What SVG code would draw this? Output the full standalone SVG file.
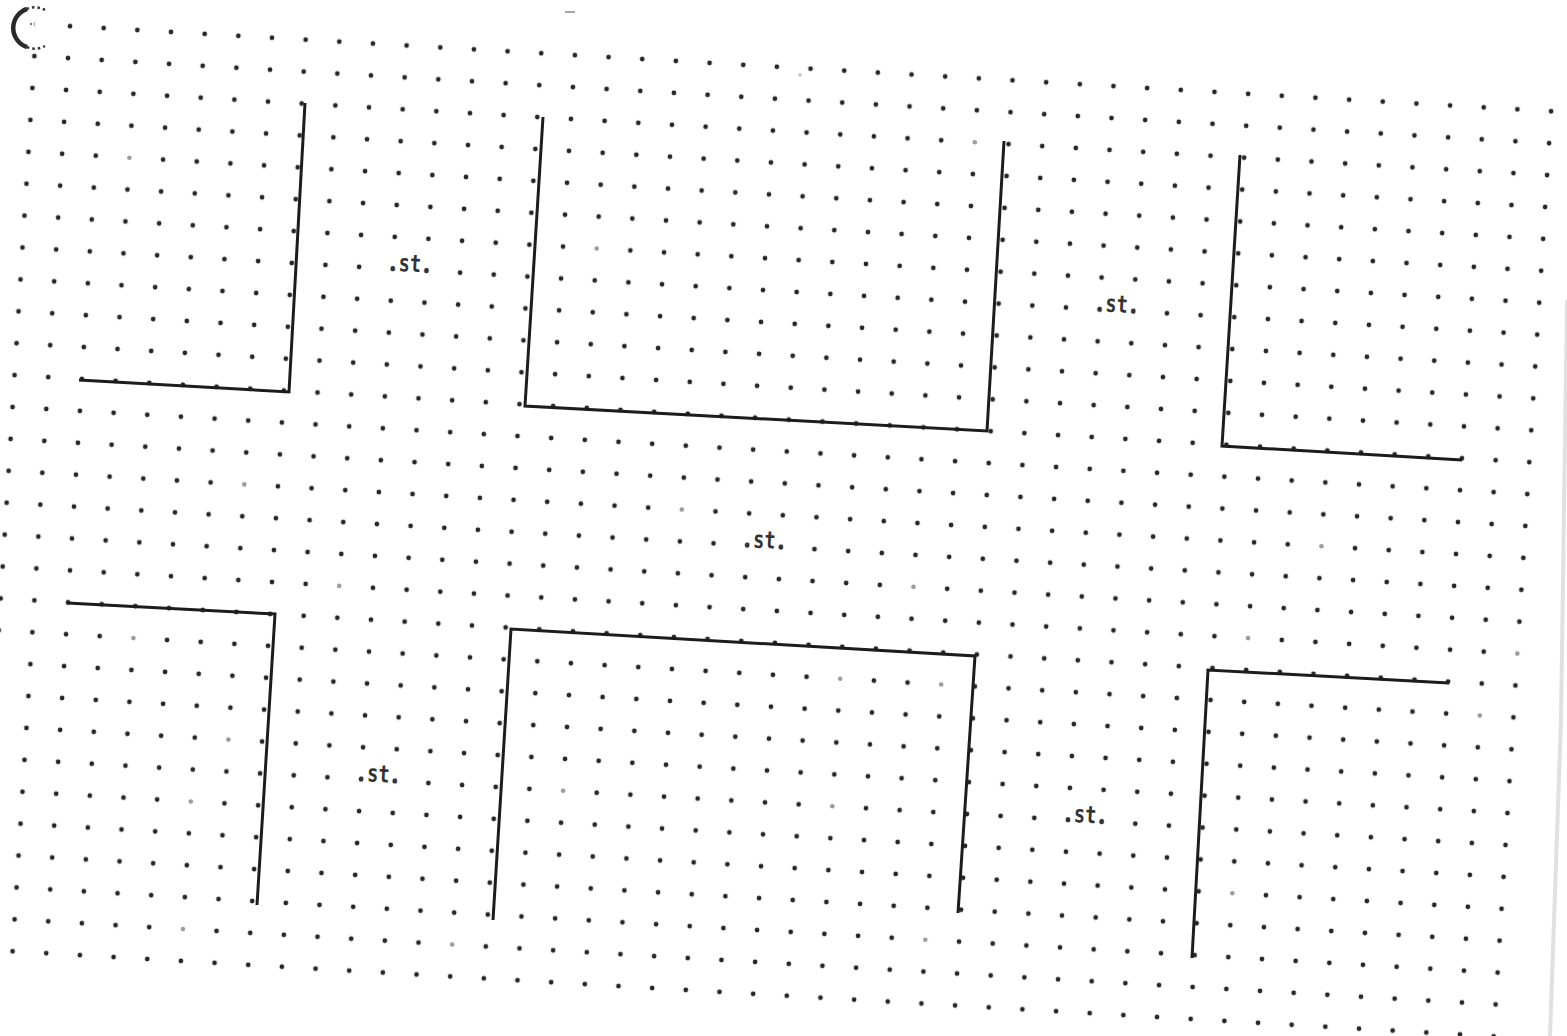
<svg xmlns="http://www.w3.org/2000/svg" width="1567" height="1036" viewBox="0 0 1567 1036">
  <style>
    .wall { fill: none; stroke: #1c1c1c; stroke-width: 3; stroke-linejoin: miter; stroke-linecap: butt; }
    .lbl { font-family: "DejaVu Sans Mono", "Liberation Mono", monospace; font-weight: bold; font-size: 24px; fill: #333333; }
    .edge { fill: none; stroke: #e0e0e0; stroke-width: 4; }
    .halo { fill: #ffffff; }
    .faint { fill: #9c9c9c; }
  </style>
  <defs>
    <pattern id="dots" patternUnits="userSpaceOnUse" width="33.66" height="31.9"
             patternTransform="matrix(1 0.05746 -0.06207 1 54.17 9.28)">
      <circle cx="16.83" cy="15.95" r="2.4" fill="#262626"/>
    </pattern>
    <g id="fdot">
      <circle class="halo" cx="0" cy="0" r="3.4"/>
      <circle class="faint" cx="0" cy="0" r="2.3"/>
    </g>
  </defs>
  <rect x="0" y="0" width="1567" height="1036" fill="#ffffff"/>

  <g id="grid">
    <polygon points="22,7.4 1569,96.3 1509.6,1053.3 -37.4,964.4" fill="url(#dots)"/>
    <use href="#fdot" x="129.4" y="157.7"/>
    <use href="#fdot" x="596.7" y="248.5"/>
    <use href="#fdot" x="974.8" y="142.2"/>
    <use href="#fdot" x="244.3" y="484.4"/>
    <use href="#fdot" x="681.8" y="509.5"/>
    <use href="#fdot" x="339.2" y="585.9"/>
    <use href="#fdot" x="913.5" y="586.9"/>
    <use href="#fdot" x="1321.4" y="546.3"/>
    <use href="#fdot" x="1248.1" y="638.1"/>
    <use href="#fdot" x="1517.3" y="653.6"/>
    <use href="#fdot" x="133.4" y="638.1"/>
    <use href="#fdot" x="228.4" y="739.6"/>
    <use href="#fdot" x="190.8" y="801.5"/>
    <use href="#fdot" x="182.9" y="929.1"/>
    <use href="#fdot" x="452.2" y="944.5"/>
    <use href="#fdot" x="563.1" y="790.8"/>
    <use href="#fdot" x="832.3" y="806.3"/>
    <use href="#fdot" x="840.2" y="678.7"/>
    <use href="#fdot" x="941.2" y="684.5"/>
    <use href="#fdot" x="1479.8" y="715.5"/>
    <use href="#fdot" x="1232.3" y="893.3"/>
    <use href="#fdot" x="925.3" y="939.7"/>
  </g>

  <g id="scan-marks">
    <circle class="halo" cx="38" cy="24.3" r="3.5"/>
    <circle cx="31" cy="24" r="1" fill="#444"/>
    <path d="M27,9 A20,20 0 0 0 27,47" fill="none" stroke="#2a2a2a" stroke-width="4.5"/>
    <path d="M45,10 A20,20 0 0 0 27,9" fill="none" stroke="#333" stroke-width="2.5" stroke-dasharray="2.5 3"/>
    <path d="M27,47 A20,20 0 0 0 45,46" fill="none" stroke="#333" stroke-width="2.5" stroke-dasharray="2.5 3"/>
    <line x1="565" y1="12" x2="575" y2="12" stroke="#8a8a8a" stroke-width="1.5"/>
    <circle cx="800" cy="75" r="2" fill="#d0d0d0"/>
    <polyline class="edge" points="1567,300 1561,720 1550,1036"/>
  </g>

  <g id="room-top-left">
    <path class="wall" d="M79,380 L289,392 L305,103"/>
  </g>
  <g id="room-top-middle">
    <path class="wall" d="M543,117 L525,406 L987,431 L1004,141"/>
  </g>
  <g id="room-top-right">
    <path class="wall" d="M1240,155 L1222,446 L1462,460"/>
  </g>
  <g id="room-bottom-left">
    <path class="wall" d="M67,603 L275,614 L257,905"/>
  </g>
  <g id="room-bottom-middle">
    <path class="wall" d="M493,920 L511,629 L975,656 L958,913"/>
  </g>
  <g id="room-bottom-right">
    <path class="wall" d="M1192,958 L1208,670 L1449,683"/>
  </g>

  <g id="labels">
    <g id="label-1" transform="translate(409.6,269.8) rotate(3.29)">
      <text class="lbl" x="0" y="1.8" text-anchor="middle" textLength="45" lengthAdjust="spacingAndGlyphs">.st.</text>
    </g>
    <g id="label-2" transform="translate(1116.4,310.4) rotate(3.29)">
      <text class="lbl" x="0" y="1.8" text-anchor="middle" textLength="45" lengthAdjust="spacingAndGlyphs">.st.</text>
    </g>
    <g id="label-3" transform="translate(764,546.3) rotate(3.29)">
      <text class="lbl" x="0" y="1.8" text-anchor="middle" textLength="45" lengthAdjust="spacingAndGlyphs">.st.</text>
    </g>
    <g id="label-4" transform="translate(378,780.2) rotate(3.29)">
      <text class="lbl" x="0" y="1.8" text-anchor="middle" textLength="45" lengthAdjust="spacingAndGlyphs">.st.</text>
    </g>
    <g id="label-5" transform="translate(1084.8,820.9) rotate(3.29)">
      <text class="lbl" x="0" y="1.8" text-anchor="middle" textLength="45" lengthAdjust="spacingAndGlyphs">.st.</text>
    </g>
  </g>
</svg>
